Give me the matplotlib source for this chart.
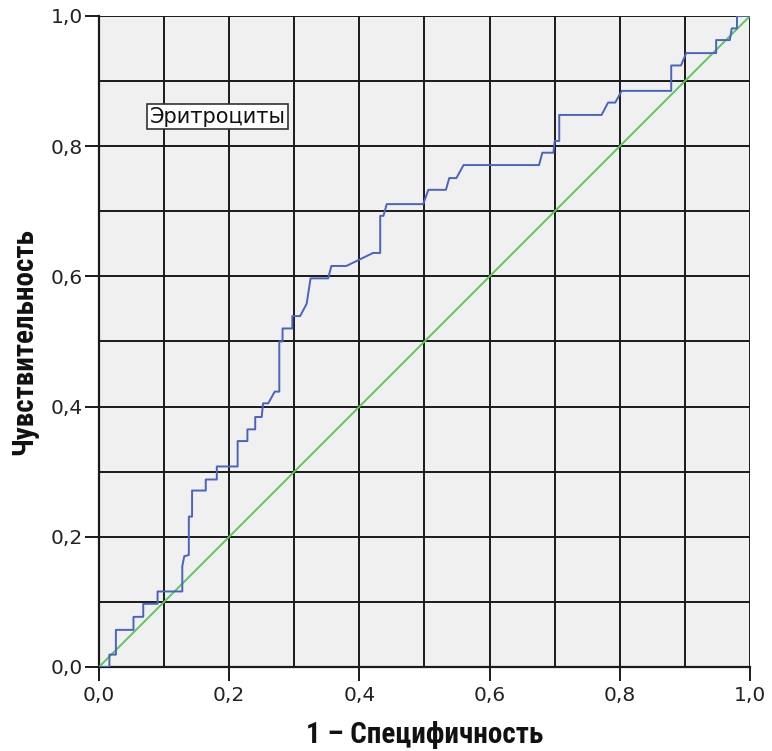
import matplotlib
matplotlib.use("Agg")
import matplotlib.pyplot as plt
from matplotlib import font_manager
import numpy as np

fpr = [0.0, 0.016, 0.016, 0.026, 0.026, 0.053, 0.053, 0.068, 0.068, 0.090, 0.090,
       0.128, 0.128, 0.131, 0.138, 0.138, 0.143, 0.143, 0.164, 0.164, 0.181, 0.181,
       0.213, 0.213, 0.228, 0.228, 0.240, 0.240, 0.250, 0.252, 0.260, 0.270, 0.277,
       0.277, 0.282, 0.282, 0.297, 0.297, 0.309, 0.319, 0.325, 0.352, 0.357, 0.380,
       0.421, 0.432, 0.432, 0.437, 0.442, 0.498, 0.506, 0.533, 0.538, 0.549, 0.560,
       0.676, 0.681, 0.698, 0.700, 0.707, 0.707, 0.772, 0.782, 0.793, 0.803, 0.879,
       0.879, 0.894, 0.902, 0.948, 0.948, 0.969, 0.972, 0.980, 0.980, 1.0]
tpr = [0.0, 0.0, 0.019, 0.019, 0.057, 0.057, 0.077, 0.077, 0.097, 0.097, 0.116,
       0.116, 0.155, 0.170, 0.172, 0.231, 0.231, 0.271, 0.271, 0.288, 0.288, 0.308,
       0.308, 0.347, 0.347, 0.365, 0.365, 0.384, 0.384, 0.405, 0.405, 0.423, 0.423,
       0.500, 0.500, 0.520, 0.520, 0.539, 0.539, 0.558, 0.597, 0.597, 0.616, 0.616,
       0.636, 0.636, 0.693, 0.693, 0.711, 0.711, 0.733, 0.733, 0.751, 0.751, 0.771,
       0.771, 0.790, 0.790, 0.808, 0.808, 0.848, 0.848, 0.867, 0.867, 0.885, 0.885,
       0.924, 0.924, 0.943, 0.943, 0.963, 0.963, 0.981, 0.981, 1.0, 1.0]
ref_line = [0.0, 1.0]
tick_vals = [0.0, 0.2, 0.4, 0.6, 0.8, 1.0]
tick_labels = ["0,0", "0,2", "0,4", "0,6", "0,8", "1,0"]
series_name = "Эритроциты"

names = {f.name for f in font_manager.fontManager.ttflist}
cond = [n for n in ["Liberation Sans Narrow", "DejaVu Sans Condensed", "Roboto Condensed",
                    "Open Sans Condensed"] if n in names]
lab_family = cond + ["DejaVu Sans"]

fig = plt.figure(figsize=(7.72, 7.51), dpi=100)
ax = fig.add_axes([0.1282, 0.1119, 0.8433, 0.8668])
ax.set_facecolor("#f0f0f0")
ax.set_xlim(0, 1)
ax.set_ylim(0, 1)

for v in np.arange(0.1, 1.01, 0.1):
    ax.axvline(v, color="#1a1a1a", lw=1.4, zorder=1)
    ax.axhline(v, color="#1a1a1a", lw=1.4, zorder=1)

ax.plot(ref_line, ref_line, color="#5cc85c", lw=1.4, zorder=3)
ax.plot(fpr, tpr, color="#4a63c0", lw=1.4, zorder=4)

for s in ["top", "right"]:
    ax.spines[s].set_visible(False)
for s in ["left", "bottom"]:
    ax.spines[s].set_color("#1a1a1a")
    ax.spines[s].set_linewidth(1.6)

ax.set_xticks(tick_vals)
ax.set_xticklabels(tick_labels)
ax.set_yticks(tick_vals)
ax.set_yticklabels(tick_labels)
ax.tick_params(axis="both", direction="out", length=10, width=1.4, color="#1a1a1a",
               labelsize=14.5, labelcolor="#222222")
ax.tick_params(axis="x", pad=4)
ax.tick_params(axis="y", pad=1.5)

lab_font = dict(family=lab_family, fontweight="bold", fontstretch="condensed",
                fontsize=21, color="#111111")
ax.set_xlabel("1 – Специфичность", labelpad=11.5, **lab_font)
ax.set_ylabel("Чувствительность", labelpad=9, **lab_font)

ax.text(0.078, 0.845, series_name, transform=ax.transAxes, fontsize=15, color="#111111",
        va="center", ha="left", zorder=6,
        bbox=dict(boxstyle="square,pad=0.12", facecolor="white", edgecolor="#333333", lw=1.2))

fig.savefig("out.png", dpi=100)
